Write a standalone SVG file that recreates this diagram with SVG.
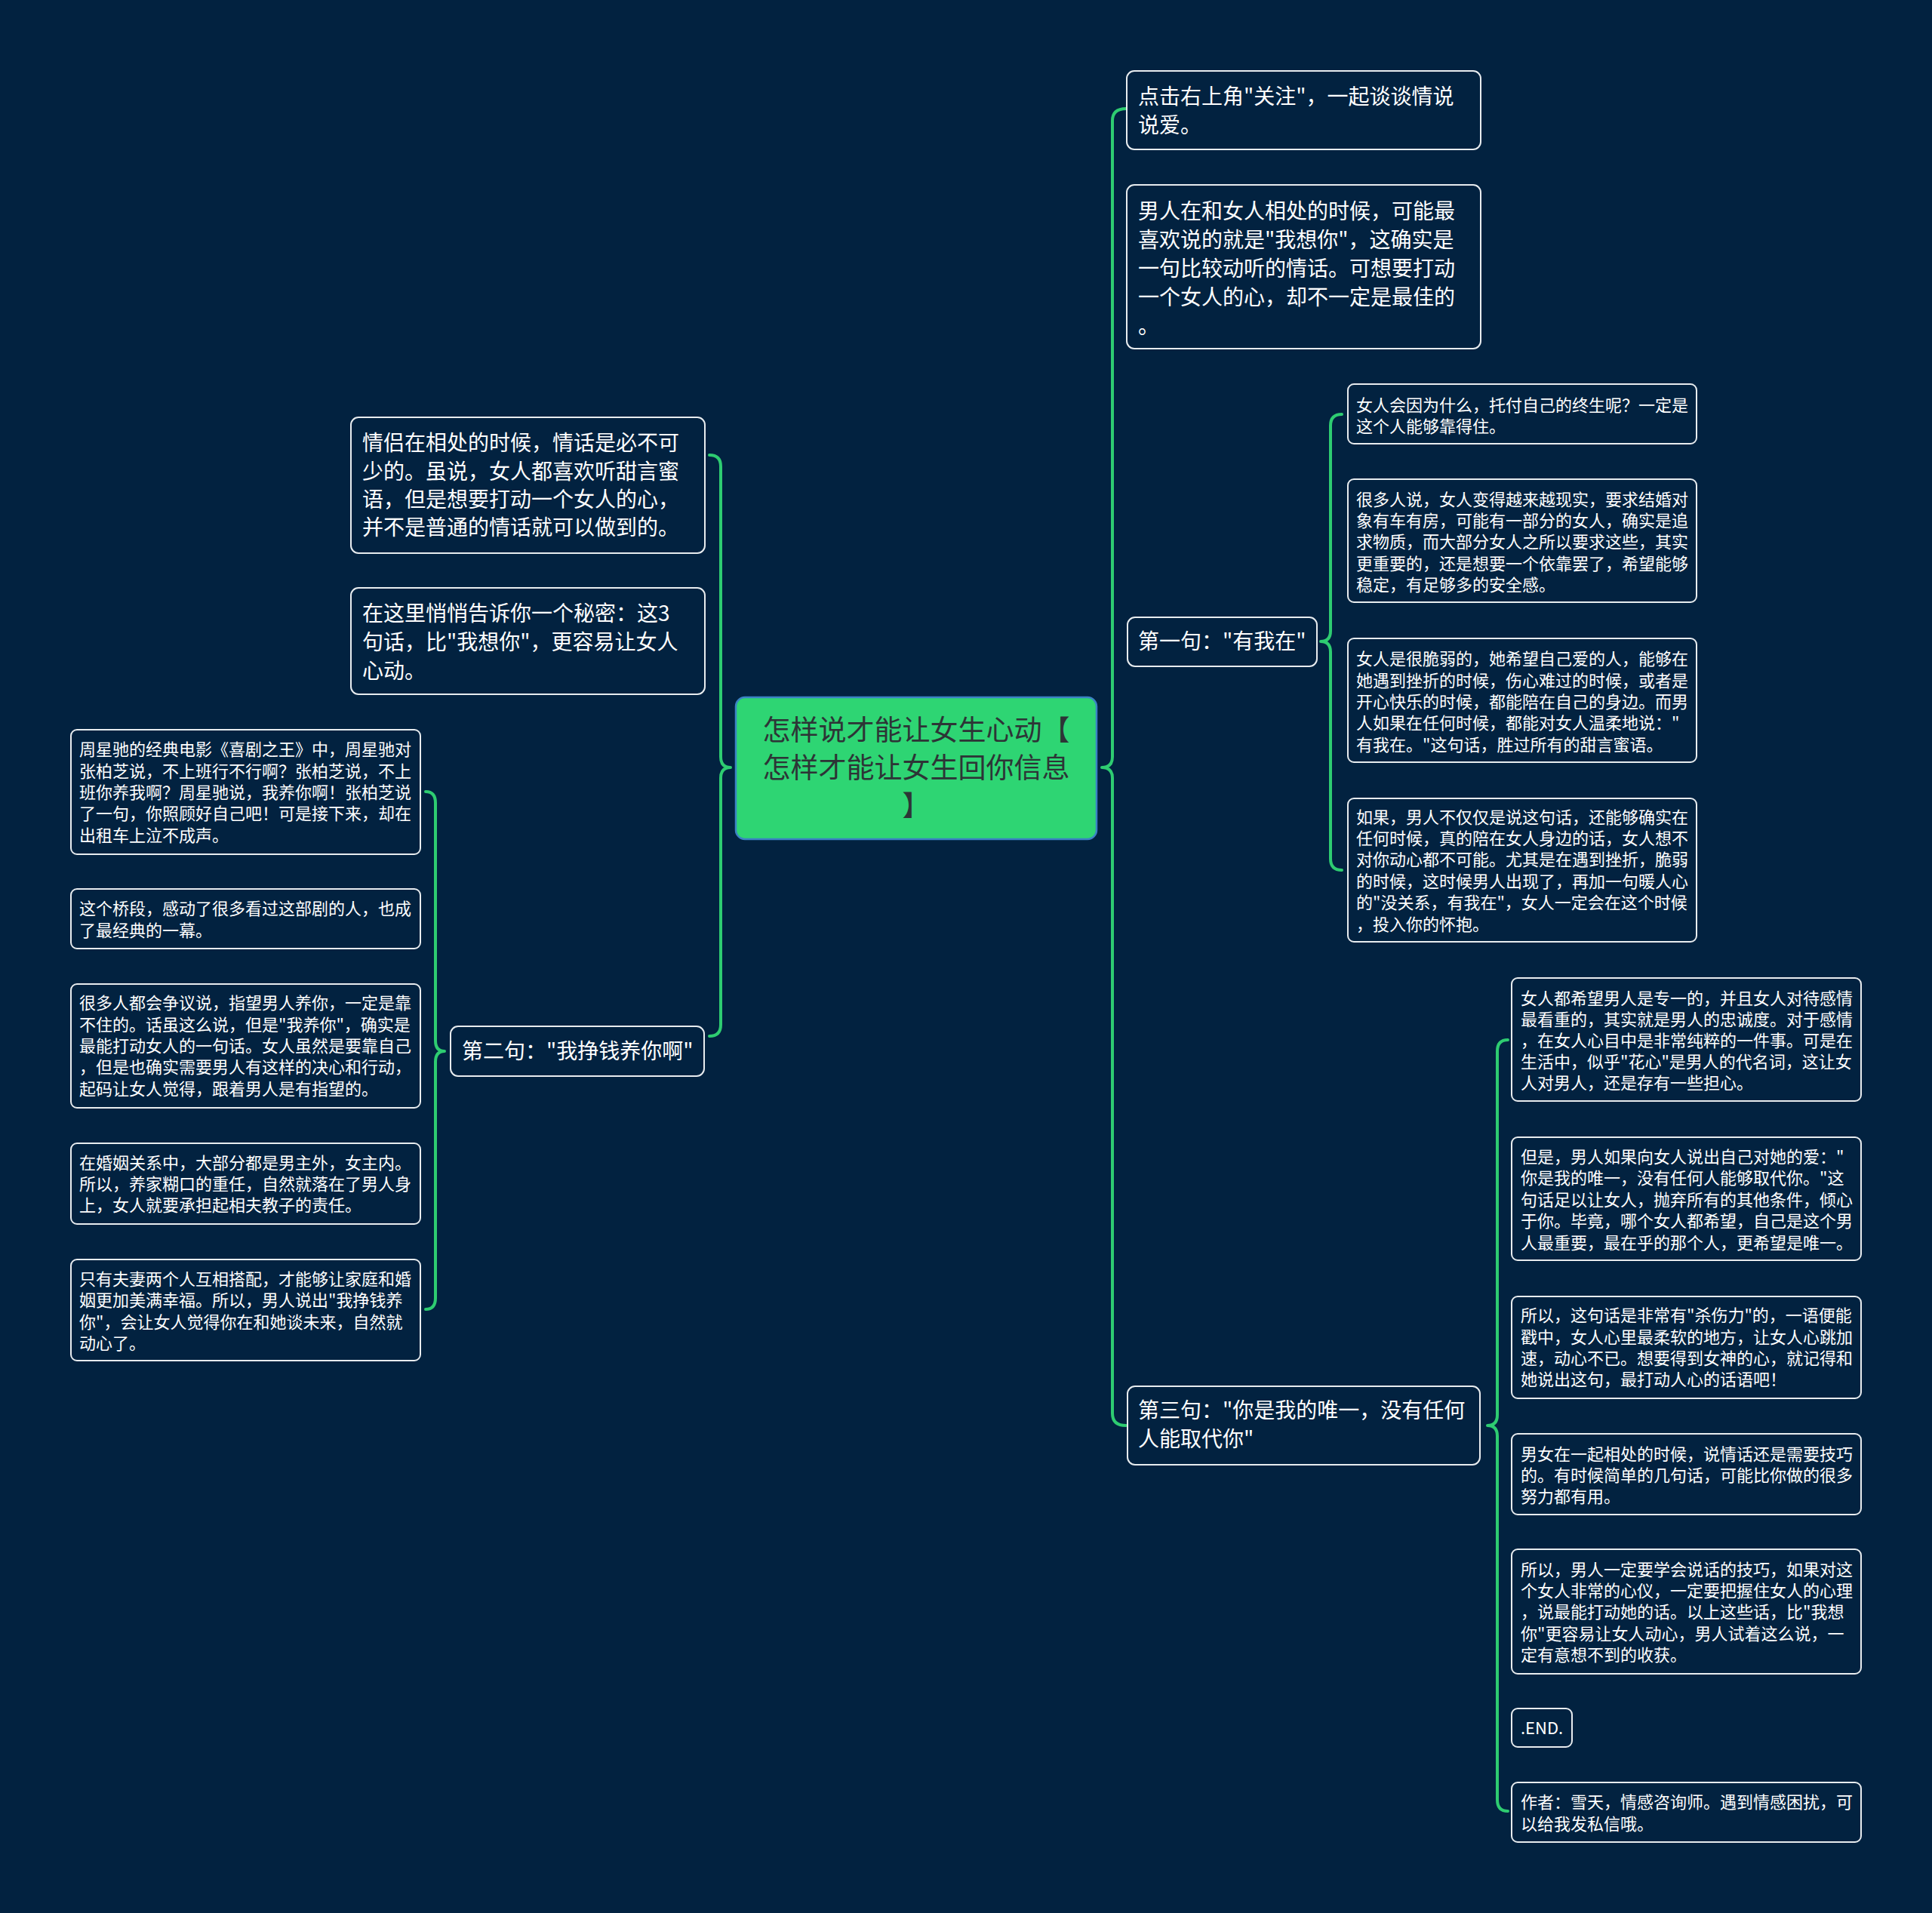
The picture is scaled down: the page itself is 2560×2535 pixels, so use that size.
<svg xmlns="http://www.w3.org/2000/svg" width="2560" height="2535" viewBox="0 0 2560 2535">
<style>
.bg{fill:#022240}
.box{fill:#022240;stroke:#e8ecef;stroke-width:2}
.root{fill:#2ed573;stroke:#3b82c4;stroke-width:2.5}
.t1{font-family:"Noto Sans CJK SC","Noto Sans",sans-serif;font-size:28px;fill:#ffffff}
.t2{font-family:"Noto Sans CJK SC","Noto Sans",sans-serif;font-size:22px;fill:#ffffff}
.tr{font-family:"Noto Sans CJK SC","Noto Sans",sans-serif;font-size:37px;fill:#2d3436}
.br{fill:none;stroke:#2ecc71;stroke-width:4;stroke-linecap:round;stroke-linejoin:round}
</style>
<rect class="bg" x="0" y="0" width="2560" height="2535"/>
<g id="connectors">
<path class="br" d="M1492,144 Q1474,144 1474,160 L1474,1003 Q1474,1017 1460,1017 Q1474,1017 1474,1031 L1474,1873 Q1474,1889 1492,1889"/>
<path class="br" d="M940,603 Q955,603 955,618 L955,1003 Q955,1017 968,1017 Q955,1017 955,1031 L955,1358 Q955,1373 940,1373"/>
<path class="br" d="M1778,549 Q1763,549 1763,564 L1763,836 Q1763,850 1750,850 Q1763,850 1763,864 L1763,1138 Q1763,1153 1778,1153"/>
<path class="br" d="M564,1049 Q577,1049 577,1064 L577,1379 Q577,1393 589,1393 Q577,1393 577,1407 L577,1720 Q577,1735 564,1735"/>
<path class="br" d="M1998,1378 Q1984,1378 1984,1393 L1984,1875 Q1984,1889 1971,1889 Q1984,1889 1984,1903 L1984,2385 Q1984,2400 1998,2400"/>
</g>
<g id="root">
<rect class="root" x="975" y="924" width="478" height="188" rx="12"/>
<text class="tr" text-anchor="middle" x="1214" y="981">怎样说才能让女生心动【</text>
<text class="tr" text-anchor="middle" x="1214" y="1031">怎样才能让女生回你信息</text>
<text class="tr" text-anchor="middle" x="1214" y="1081">】</text>
</g>
<g id="r1">
<rect class="box" x="1493" y="94" width="469" height="104" rx="10"/>
<text class="t1" x="1508" y="138">点击右上角"关注"，一起谈谈情说</text>
<text class="t1" x="1508" y="176">说爱。</text>
</g>
<g id="r2">
<rect class="box" x="1493" y="245" width="469" height="217" rx="10"/>
<text class="t1" x="1508" y="290">男人在和女人相处的时候，可能最</text>
<text class="t1" x="1508" y="328">喜欢说的就是"我想你"，这确实是</text>
<text class="t1" x="1508" y="366">一句比较动听的情话。可想要打动</text>
<text class="t1" x="1508" y="404">一个女人的心，却不一定是最佳的</text>
<text class="t1" x="1508" y="442">。</text>
</g>
<g id="r3">
<rect class="box" x="1494" y="818" width="251" height="65" rx="10"/>
<text class="t1" x="1508" y="860">第一句："有我在"</text>
</g>
<g id="r4">
<rect class="box" x="1494" y="1837" width="467" height="104" rx="10"/>
<text class="t1" x="1508" y="1879">第三句："你是我的唯一，没有任何</text>
<text class="t1" x="1508" y="1917">人能取代你"</text>
</g>
<g id="l1">
<rect class="box" x="465" y="553" width="469" height="180" rx="10"/>
<text class="t1" x="480" y="597">情侣在相处的时候，情话是必不可</text>
<text class="t1" x="480" y="635">少的。虽说，女人都喜欢听甜言蜜</text>
<text class="t1" x="480" y="672">语，但是想要打动一个女人的心，</text>
<text class="t1" x="480" y="709">并不是普通的情话就可以做到的。</text>
</g>
<g id="l2">
<rect class="box" x="465" y="779" width="469" height="141" rx="10"/>
<text class="t1" x="480" y="823">在这里悄悄告诉你一个秘密：这3</text>
<text class="t1" x="480" y="861">句话，比"我想你"，更容易让女人</text>
<text class="t1" x="480" y="899">心动。</text>
</g>
<g id="l3">
<rect class="box" x="597" y="1360" width="336" height="66" rx="10"/>
<text class="t1" x="612" y="1403">第二句："我挣钱养你啊"</text>
</g>
<g id="a1">
<rect class="box" x="1786" y="509" width="462" height="79" rx="8"/>
<text class="t2" x="1797" y="545">女人会因为什么，托付自己的终生呢？一定是</text>
<text class="t2" x="1797" y="573">这个人能够靠得住。</text>
</g>
<g id="a2">
<rect class="box" x="1786" y="635" width="462" height="163" rx="8"/>
<text class="t2" x="1797" y="670">很多人说，女人变得越来越现实，要求结婚对</text>
<text class="t2" x="1797" y="698">象有车有房，可能有一部分的女人，确实是追</text>
<text class="t2" x="1797" y="726">求物质，而大部分女人之所以要求这些，其实</text>
<text class="t2" x="1797" y="755">更重要的，还是想要一个依靠罢了，希望能够</text>
<text class="t2" x="1797" y="783">稳定，有足够多的安全感。</text>
</g>
<g id="a3">
<rect class="box" x="1786" y="846" width="462" height="164" rx="8"/>
<text class="t2" x="1797" y="881">女人是很脆弱的，她希望自己爱的人，能够在</text>
<text class="t2" x="1797" y="910">她遇到挫折的时候，伤心难过的时候，或者是</text>
<text class="t2" x="1797" y="938">开心快乐的时候，都能陪在自己的身边。而男</text>
<text class="t2" x="1797" y="966">人如果在任何时候，都能对女人温柔地说："</text>
<text class="t2" x="1797" y="995">有我在。"这句话，胜过所有的甜言蜜语。</text>
</g>
<g id="a4">
<rect class="box" x="1786" y="1058" width="462" height="190" rx="8"/>
<text class="t2" x="1797" y="1091">如果，男人不仅仅是说这句话，还能够确实在</text>
<text class="t2" x="1797" y="1119">任何时候，真的陪在女人身边的话，女人想不</text>
<text class="t2" x="1797" y="1147">对你动心都不可能。尤其是在遇到挫折，脆弱</text>
<text class="t2" x="1797" y="1176">的时候，这时候男人出现了，再加一句暖人心</text>
<text class="t2" x="1797" y="1204">的"没关系，有我在"，女人一定会在这个时候</text>
<text class="t2" x="1797" y="1233">，投入你的怀抱。</text>
</g>
<g id="b1">
<rect class="box" x="94" y="967" width="463" height="165" rx="8"/>
<text class="t2" x="105" y="1001">周星驰的经典电影《喜剧之王》中，周星驰对</text>
<text class="t2" x="105" y="1030">张柏芝说，不上班行不行啊？张柏芝说，不上</text>
<text class="t2" x="105" y="1058">班你养我啊？周星驰说，我养你啊！张柏芝说</text>
<text class="t2" x="105" y="1086">了一句，你照顾好自己吧！可是接下来，却在</text>
<text class="t2" x="105" y="1115">出租车上泣不成声。</text>
</g>
<g id="b2">
<rect class="box" x="94" y="1178" width="463" height="79" rx="8"/>
<text class="t2" x="105" y="1212">这个桥段，感动了很多看过这部剧的人，也成</text>
<text class="t2" x="105" y="1241">了最经典的一幕。</text>
</g>
<g id="b3">
<rect class="box" x="94" y="1304" width="463" height="164" rx="8"/>
<text class="t2" x="105" y="1337">很多人都会争议说，指望男人养你，一定是靠</text>
<text class="t2" x="105" y="1366">不住的。话虽这么说，但是"我养你"，确实是</text>
<text class="t2" x="105" y="1394">最能打动女人的一句话。女人虽然是要靠自己</text>
<text class="t2" x="105" y="1422">，但是也确实需要男人有这样的决心和行动，</text>
<text class="t2" x="105" y="1451">起码让女人觉得，跟着男人是有指望的。</text>
</g>
<g id="b4">
<rect class="box" x="94" y="1515" width="463" height="107" rx="8"/>
<text class="t2" x="105" y="1549">在婚姻关系中，大部分都是男主外，女主内。</text>
<text class="t2" x="105" y="1577">所以，养家糊口的重任，自然就落在了男人身</text>
<text class="t2" x="105" y="1605">上，女人就要承担起相夫教子的责任。</text>
</g>
<g id="b5">
<rect class="box" x="94" y="1669" width="463" height="134" rx="8"/>
<text class="t2" x="105" y="1703">只有夫妻两个人互相搭配，才能够让家庭和婚</text>
<text class="t2" x="105" y="1731">姻更加美满幸福。所以，男人说出"我挣钱养</text>
<text class="t2" x="105" y="1760">你"，会让女人觉得你在和她谈未来，自然就</text>
<text class="t2" x="105" y="1788">动心了。</text>
</g>
<g id="c1">
<rect class="box" x="2003" y="1296" width="463" height="163" rx="8"/>
<text class="t2" x="2015" y="1331">女人都希望男人是专一的，并且女人对待感情</text>
<text class="t2" x="2015" y="1359">最看重的，其实就是男人的忠诚度。对于感情</text>
<text class="t2" x="2015" y="1387">，在女人心目中是非常纯粹的一件事。可是在</text>
<text class="t2" x="2015" y="1415">生活中，似乎"花心"是男人的代名词，这让女</text>
<text class="t2" x="2015" y="1443">人对男人，还是存有一些担心。</text>
</g>
<g id="c2">
<rect class="box" x="2003" y="1507" width="463" height="163" rx="8"/>
<text class="t2" x="2015" y="1541">但是，男人如果向女人说出自己对她的爱："</text>
<text class="t2" x="2015" y="1569">你是我的唯一，没有任何人能够取代你。"这</text>
<text class="t2" x="2015" y="1598">句话足以让女人，抛弃所有的其他条件，倾心</text>
<text class="t2" x="2015" y="1626">于你。毕竟，哪个女人都希望，自己是这个男</text>
<text class="t2" x="2015" y="1655">人最重要，最在乎的那个人，更希望是唯一。</text>
</g>
<g id="c3">
<rect class="box" x="2003" y="1718" width="463" height="135" rx="8"/>
<text class="t2" x="2015" y="1751">所以，这句话是非常有"杀伤力"的，一语便能</text>
<text class="t2" x="2015" y="1780">戳中，女人心里最柔软的地方，让女人心跳加</text>
<text class="t2" x="2015" y="1808">速，动心不已。想要得到女神的心，就记得和</text>
<text class="t2" x="2015" y="1836">她说出这句，最打动人心的话语吧！</text>
</g>
<g id="c4">
<rect class="box" x="2003" y="1900" width="463" height="107" rx="8"/>
<text class="t2" x="2015" y="1935">男女在一起相处的时候，说情话还是需要技巧</text>
<text class="t2" x="2015" y="1963">的。有时候简单的几句话，可能比你做的很多</text>
<text class="t2" x="2015" y="1991">努力都有用。</text>
</g>
<g id="c5">
<rect class="box" x="2003" y="2053" width="463" height="165" rx="8"/>
<text class="t2" x="2015" y="2088">所以，男人一定要学会说话的技巧，如果对这</text>
<text class="t2" x="2015" y="2116">个女人非常的心仪，一定要把握住女人的心理</text>
<text class="t2" x="2015" y="2144">，说最能打动她的话。以上这些话，比"我想</text>
<text class="t2" x="2015" y="2173">你"更容易让女人动心，男人试着这么说，一</text>
<text class="t2" x="2015" y="2201">定有意想不到的收获。</text>
</g>
<g id="c6">
<rect class="box" x="2003" y="2264" width="80" height="51" rx="8"/>
<text class="t2" x="2015" y="2298">.END.</text>
</g>
<g id="c7">
<rect class="box" x="2003" y="2362" width="463" height="79" rx="8"/>
<text class="t2" x="2015" y="2396">作者：雪天，情感咨询师。遇到情感困扰，可</text>
<text class="t2" x="2015" y="2425">以给我发私信哦。</text>
</g>
</svg>
